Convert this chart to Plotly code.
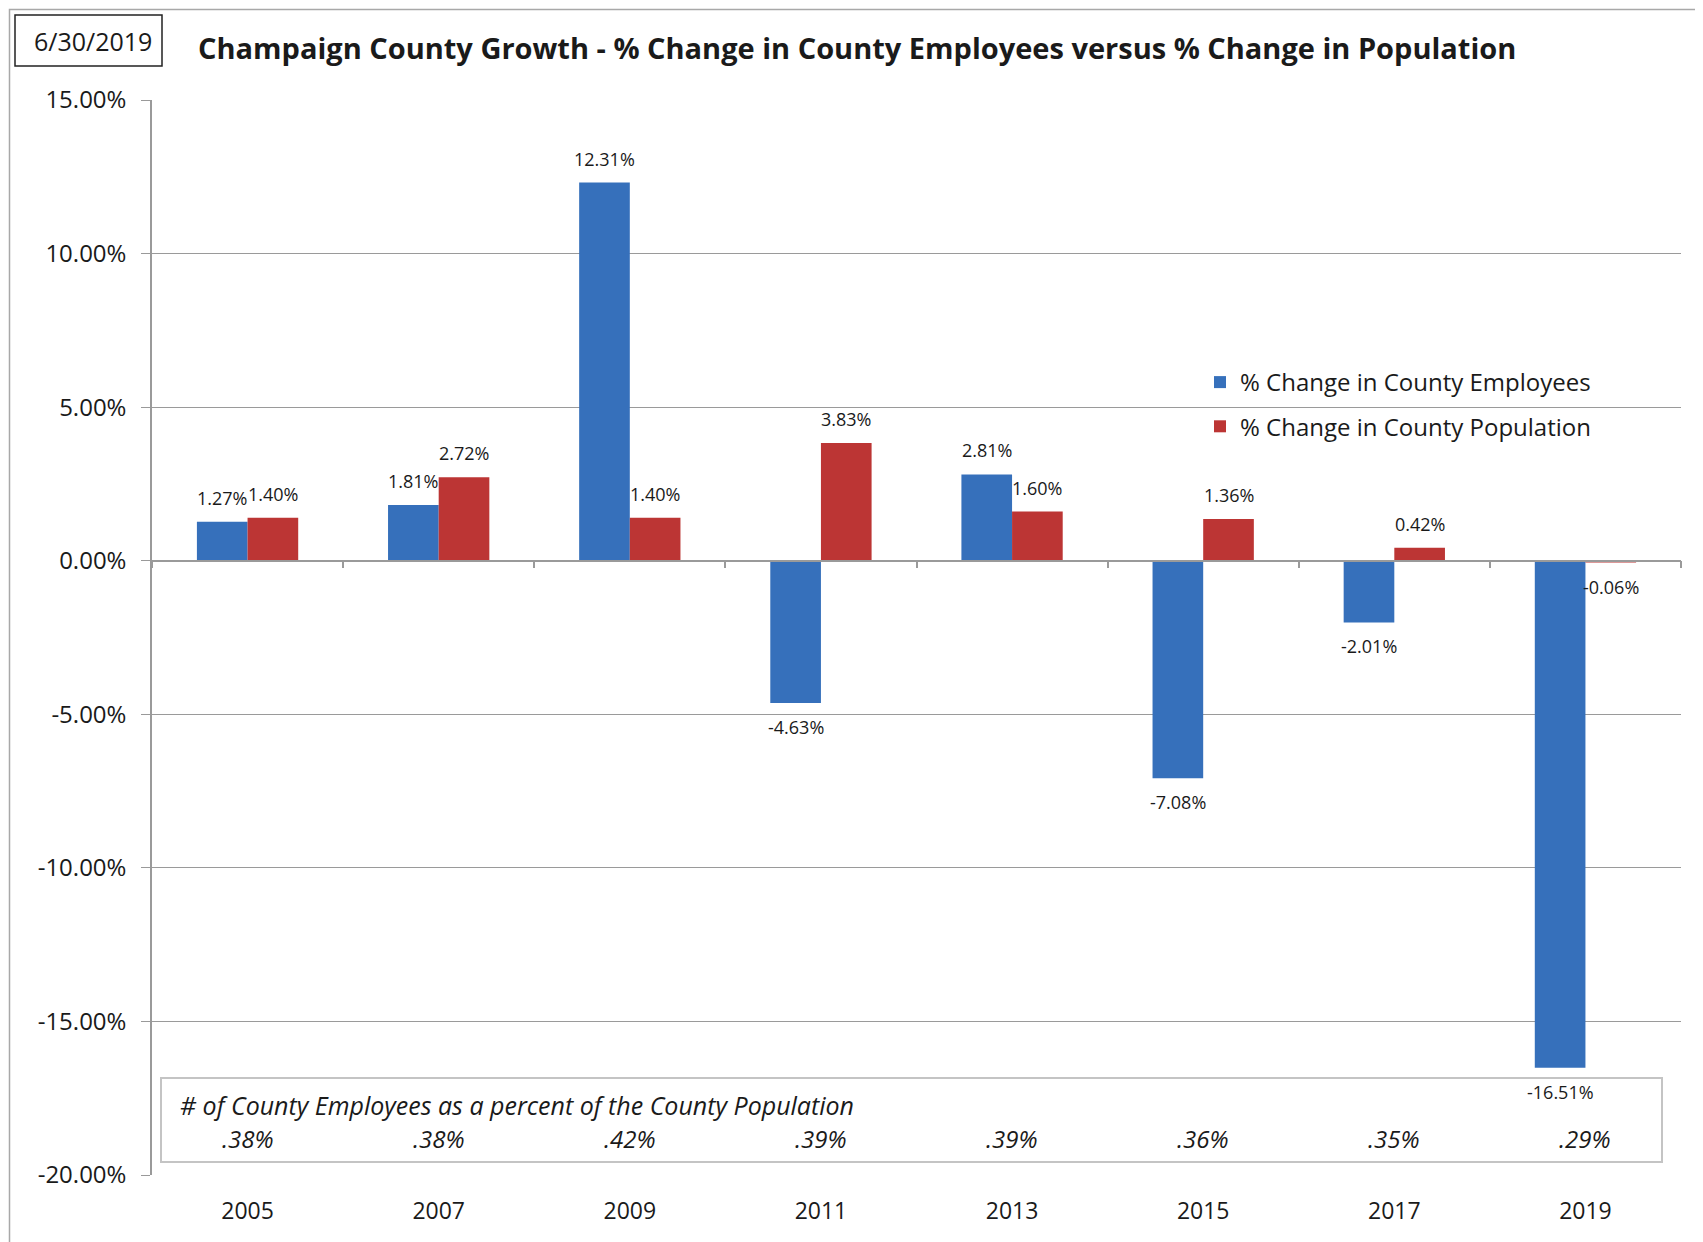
import plotly.graph_objects as go

# ---------------- data ----------------
years = ["2005", "2007", "2009", "2011", "2013", "2015", "2017", "2019"]
emp_change = [1.27, 1.81, 12.31, -4.63, 2.81, -7.08, -2.01, -16.51]
pop_change = [1.40, 2.72, 1.40, 3.83, 1.60, 1.36, 0.42, -0.06]
emp_share_labels = [".38%", ".38%", ".42%", ".39%", ".39%", ".36%", ".35%", ".29%"]
y_tickvals = [15, 10, 5, 0, -5, -10, -15, -20]
y_ticktext = ["15.00%", "10.00%", "5.00%", "0.00%", "-5.00%", "-10.00%", "-15.00%", "-20.00%"]
series_names = ["% Change in County Employees", "% Change in County Population"]
title_text = "Champaign County Growth - % Change in County Employees versus % Change in Population"
date_text = "6/30/2019"
box_heading = "# of County Employees as a percent of the County Population"

# ---------------- layout geometry (pixels, reference frame) ----------------
OFF = 8                       # page body margin offset
W, H = 1703 - OFF, 1242 - OFF
L, R, T, B = 152, 1681, 100, 1175
PW, PH = R - L, B - T


def fx(px):
    return (px - L) / PW


def fy(py):
    return (B - py) / PH


FONT = "Open Sans"
TXT = "#1a1a1a"
GRID = "#9a9a9a"
BLUE = "#3670bb"
RED = "#bc3534"
BARGAP = 0.47
n = len(years)
bar_px = PW / n * (1 - BARGAP) / 2

fig = go.Figure()

for vals, name, col, grp in [(emp_change, series_names[0], BLUE, "a"),
                             (pop_change, series_names[1], RED, "b")]:
    fig.add_trace(go.Bar(x=years, y=vals, name=name, marker_color=col,
                         marker_line_width=0, legendgroup=grp, cliponaxis=False))

# invisible trace carrying the category axis drawn at zero
fig.add_trace(go.Scatter(x=[0], y=[None], xaxis="x2", showlegend=False,
                         hoverinfo="skip", mode="markers"))

zero_pos = (0 - y_tickvals[-1]) / (y_tickvals[0] - y_tickvals[-1])

shapes = [
    # outer chart frame
    dict(type="rect", xref="paper", yref="paper", x0=fx(9.5), x1=fx(1760),
         y0=fy(1300), y1=fy(9.5), line=dict(color="#a8a8a8", width=1.5)),
    # date box
    dict(type="rect", xref="paper", yref="paper", x0=fx(15), x1=fx(162),
         y0=fy(66), y1=fy(15), line=dict(color="#222", width=1.5)),
    # bottom text box
    dict(type="rect", xref="paper", yref="paper", x0=fx(161), x1=fx(1662),
         y0=fy(1162), y1=fy(1078), line=dict(color="#c4c4c4", width=2),
         fillcolor="white", layer="below"),
]

annotations = [
    dict(text=f"<b>{title_text}</b>", xref="paper", yref="paper", x=fx(857), y=fy(48),
         xanchor="center", yanchor="middle", showarrow=False,
         font=dict(family=FONT, size=29, color=TXT)),
    dict(text=date_text, xref="paper", yref="paper", x=fx(93), y=fy(41),
         xanchor="center", yanchor="middle", showarrow=False,
         font=dict(family=FONT, size=25, color=TXT)),
    dict(text=f"<i>{box_heading}</i>", xref="paper", yref="paper", x=fx(178), y=fy(1105),
         xanchor="left", yanchor="middle", showarrow=False,
         font=dict(family=FONT, size=25, color=TXT)),
]
for i, lab in enumerate(emp_share_labels):
    annotations.append(dict(text=f"<i>{lab}</i>", xref="x", yref="paper", x=i, y=fy(1138),
                            xanchor="center", yanchor="middle", showarrow=False,
                            font=dict(family=FONT, size=24, color=TXT)))

# bar value labels
for s, vals in enumerate([emp_change, pop_change]):
    for i, v in enumerate(vals):
        annotations.append(dict(text=f"{v:.2f}%", xref="x", yref="y", x=i, y=v,
                                xshift=(s - 0.5) * bar_px, yshift=24 if v >= 0 else -24,
                                xanchor="center", yanchor="middle", showarrow=False,
                                font=dict(family=FONT, size=18, color=TXT)))

fig.update_layout(
    width=W, height=H,
    margin=dict(l=L - OFF, r=W - (R - OFF), t=T - OFF, b=H - (B - OFF), pad=0),
    paper_bgcolor="white", plot_bgcolor="rgba(0,0,0,0)",
    barmode="group", bargap=BARGAP, bargroupgap=0,
    font=dict(family=FONT, color=TXT),
    showlegend=True,
    legend=dict(x=fx(1200), y=fy(360), xanchor="left", yanchor="top",
                bgcolor="rgba(0,0,0,0)", font=dict(family=FONT, size=24, color=TXT),
                tracegroupgap=10, traceorder="grouped"),
    xaxis=dict(type="category", categoryorder="array", categoryarray=years,
               range=[-0.5, n - 0.5], showline=False, showgrid=False,
               ticks="outside", ticklen=15, tickcolor="rgba(0,0,0,0)",
               tickfont=dict(family=FONT, size=23, color=TXT), fixedrange=True),
    xaxis2=dict(overlaying="x", anchor="free", position=zero_pos, type="linear",
                range=[-0.5, n - 0.5], showline=True, linecolor=GRID, linewidth=1.5,
                ticks="outside", ticklen=7, tickcolor=GRID, tickwidth=1.5,
                tickvals=[i - 0.5 for i in range(n + 1)], showticklabels=False,
                showgrid=False, zeroline=False),
    yaxis=dict(range=[y_tickvals[-1], y_tickvals[0]], tickvals=y_tickvals, ticktext=y_ticktext,
               showgrid=True, gridcolor=GRID, gridwidth=1.2, zeroline=False,
               showline=True, linecolor=GRID, linewidth=1.5,
               ticks="outside", ticklen=9, tickcolor=GRID, ticklabelstandoff=10,
               tickfont=dict(family=FONT, size=24, color=TXT)),
    shapes=shapes, annotations=annotations,
)

fig.write_html("out.html")
